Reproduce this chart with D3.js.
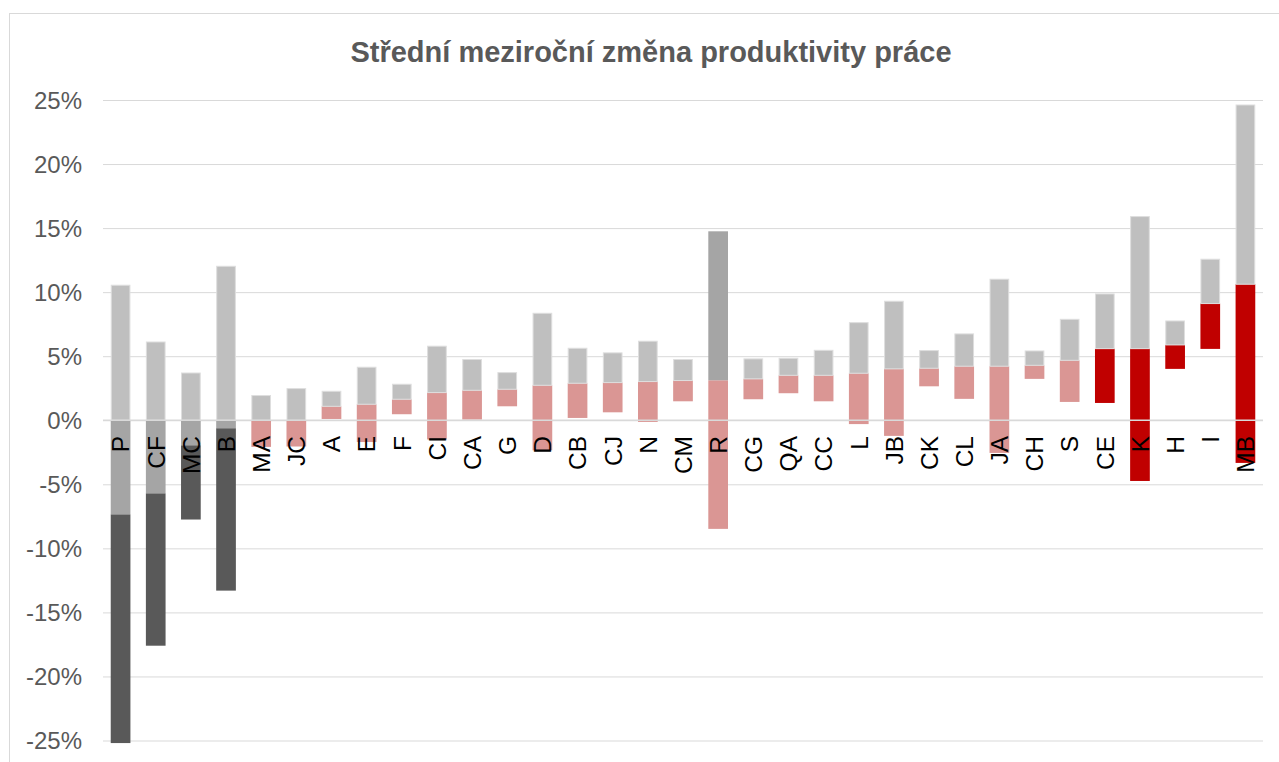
<!DOCTYPE html>
<html>
<head>
<meta charset="utf-8">
<script src="https://cdn.jsdelivr.net/npm/d3@7"></script>
<style>
  body { margin: 0; background: #fff; }
  .chart-container { width: 1279px; height: 762px; }
  text { font-family: "Liberation Sans", Arial, sans-serif; }
</style>
</head>
<body>
<div class="chart-container"></div>
<script>
// Data (percent)
const categories = ['P','CF','MC','B','MA','JC','A','E','F','CI','CA','G','D','CB','CJ','N','CM','R',
  'CG','QA','CC','L','JB','CK','CL','JA','CH','S','CE','K','H','I','MB'];
const lows = [-25.2, -17.6, -7.75, -13.3, -2.08, -2.05, 0.1, -1.7, 0.47, -1.5, 0.05, 1.09, -2.35, 0.18, 0.62, -0.13, 1.48, -8.48,
  1.64, 2.11, 1.48, -0.3, -1.22, 2.65, 1.67, -2.55, 3.23, 1.43, 1.35, -4.74, 4.01, 5.57, -3.33];
const medians = [-7.34, -5.7, -1.95, -0.62, 0.0, 0.0, 1.09, 1.25, 1.64, 2.16, 2.34, 2.42, 2.73, 2.89, 2.94, 3.02, 3.1, 3.12,
  3.23, 3.51, 3.51, 3.67, 4.01, 4.06, 4.22, 4.22, 4.29, 4.68, 5.59, 5.59, 5.88, 9.11, 10.62];
const highs = [10.54, 6.11, 3.69, 12.02, 1.93, 2.47, 2.26, 4.14, 2.81, 5.78, 4.74, 3.72, 8.35, 5.62, 5.26, 6.17, 4.74, 14.75,
  4.79, 4.84, 5.46, 7.62, 9.29, 5.44, 6.74, 11.01, 5.41, 7.88, 9.86, 15.9, 7.75, 12.57, 24.61];
const yTicks = [-25, -20, -15, -10, -5, 0, 5, 10, 15, 20, 25];
const highlighted = 'R';
const title = 'Střední meziroční změna produktivity práce';

function drawChart() {
    const svg = d3.select('.chart-container')
        .append('svg')
        .attr('width', 1279)
        .attr('height', 762);

    // outer chart border
    svg.append('rect')
        .attr('x', 9.5).attr('y', 13.5)
        .attr('width', 1280).attr('height', 760)
        .attr('fill', 'none')
        .attr('stroke', '#d9d9d9');

    const x = d3.scaleBand()
        .domain(categories)
        .range([103, 1263])
        .paddingInner(0.44)
        .paddingOuter(0.22);

    const y = d3.scaleLinear()
        .domain([-25, 25])
        .range([740.5, 100]);

    // grid lines
    svg.append('g')
        .attr('transform', 'translate(103,0)')
        .call(d3.axisLeft(y).tickValues(yTicks).tickSize(-1160).tickFormat(''))
        .call(g => g.select('.domain').remove())
        .call(g => g.selectAll('line').attr('stroke', '#d9d9d9'));

    // y labels
    svg.append('g')
        .selectAll('text')
        .data(yTicks)
        .enter()
        .append('text')
        .attr('x', 82)
        .attr('y', d => y(d))
        .attr('dy', '0.36em')
        .attr('text-anchor', 'end')
        .attr('font-size', 24)
        .attr('fill', '#595959')
        .text(d => d + '%');

    const data = categories.map((c, i) => ({ cat: c, low: lows[i], mid: medians[i], high: highs[i] }));
    const bw = x.bandwidth();

    const lowColor = d => d.mid < 0 ? '#595959' : (d.mid > 5 ? '#c00000' : '#da9694');

    const bars = svg.selectAll('.bar')
        .data(data)
        .enter()
        .append('g')
        .attr('class', 'bar')
        .attr('transform', d => `translate(${x(d.cat)},0)`);

    // lower segment: low -> median
    bars.append('rect')
        .attr('width', bw)
        .attr('y', d => y(d.mid))
        .attr('height', d => y(d.low) - y(d.mid))
        .attr('fill', lowColor);

    // upper segment below zero: median -> 0
    bars.filter(d => d.mid < 0)
        .append('rect')
        .attr('width', bw)
        .attr('y', y(0))
        .attr('height', d => y(d.mid) - y(0))
        .attr('fill', '#a5a5a5');

    // upper segment above zero
    bars.append('rect')
        .attr('x', d => d.cat === highlighted ? 0 : 0.5)
        .attr('width', d => d.cat === highlighted ? bw : bw - 1)
        .attr('y', d => y(d.high))
        .attr('height', d => y(Math.max(d.mid, 0)) - y(d.high))
        .attr('fill', d => d.cat === highlighted ? '#a5a5a5' : '#bfbfbf')
        .attr('stroke', d => d.cat === highlighted ? 'none' : '#dedede')
        .attr('stroke-width', 1);

    // zero line on top
    svg.append('line')
        .attr('x1', 103).attr('x2', 1263)
        .attr('y1', y(0)).attr('y2', y(0))
        .attr('stroke', '#d9d9d9')
        .attr('stroke-width', 1.5);

    // category labels
    svg.append('g')
        .selectAll('text')
        .data(categories)
        .enter()
        .append('text')
        .attr('transform', d => `translate(${x(d) + bw / 2},436) rotate(-90)`)
        .attr('dy', '0.36em')
        .attr('text-anchor', 'end')
        .attr('font-size', 24.5)
        .attr('fill', '#000')
        .text(d => d);

    // title
    svg.append('text')
        .attr('x', 651)
        .attr('y', 62)
        .attr('text-anchor', 'middle')
        .attr('font-size', 29)
        .attr('font-weight', 'bold')
        .attr('fill', '#595959')
        .text(title);
}

drawChart();
</script>
</body>
</html>
